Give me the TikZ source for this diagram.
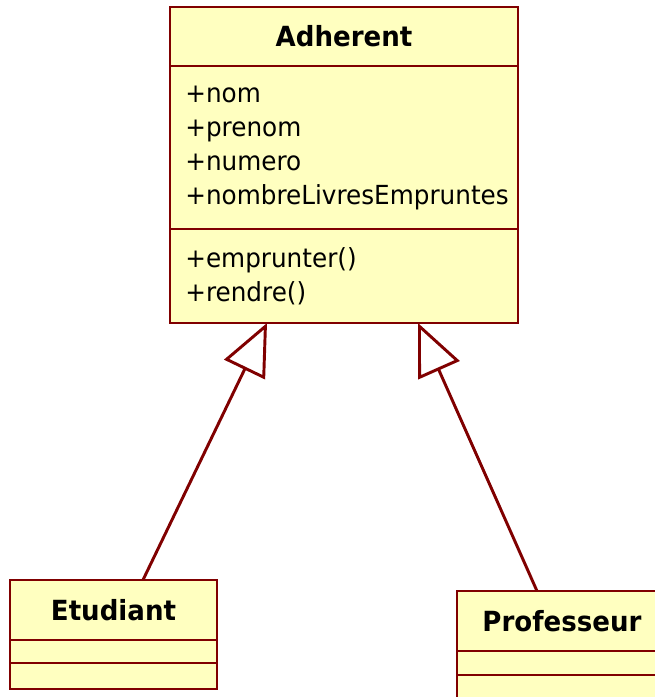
\documentclass[tikz,border=0pt]{standalone}
\usepackage{fontspec}
\setmainfont{DejaVu Sans}[FakeStretch=0.94]
\usetikzlibrary{arrows.meta,positioning}
\definecolor{Maroon}{RGB}{128,0,0}
\definecolor{LightYellow}{RGB}{255,255,192}
\tikzset{
  classname/.style={draw=Maroon, fill=LightYellow, line width=2.2pt, outer sep=0pt, inner sep=0pt, font=\bfseries\fontsize{20.8}{24}\selectfont, minimum height=44.25pt},
  classpart/.style={draw=Maroon, fill=LightYellow, line width=2.2pt, outer sep=0pt, inner xsep=11.5pt, inner ysep=0pt, align=left, font=\fontsize{19.7}{25.5}\selectfont},
  inherit/.style={-{Triangle[open, length=38.8pt, width=33.75pt, fill=white]}, line width=2.2pt, draw=Maroon}
}
\begin{document}
\begin{tikzpicture}[x=0.75pt, y=-0.75pt]
\useasboundingbox (0,0) rectangle (655,697);
% Adherent
\node[classname, minimum width=261pt] (adherent) at (344,36.5) {Adherent};
\node[classpart, text width=238pt, minimum height=122.25pt, below=0pt of adherent] (adherentattr) {+nom\\+prenom\\+numero\\+nombreLivresEmpruntes};
\node[classpart, text width=238pt, minimum height=70.5pt, below=0pt of adherentattr] (adherentops) {+emprunter()\\+rendre()};
% Etudiant
\node[classname, minimum width=155.25pt, minimum height=45pt] (etudiant) at (113.5,610) {Etudiant};
\node[classpart, minimum width=155.25pt, minimum height=17.25pt, below=0pt of etudiant] (etudiantattr) {};
\node[classpart, minimum width=155.25pt, minimum height=19.5pt, below=0pt of etudiantattr] (etudiantops) {};
% Professeur
\node[classname, minimum width=157.5pt, minimum height=45pt] (professeur) at (562,621) {Professeur};
\node[classpart, minimum width=157.5pt, minimum height=18pt, below=0pt of professeur] (professeurattr) {};
\node[classpart, minimum width=157.5pt, minimum height=18.75pt, below=0pt of professeurattr] (professeurops) {};

\draw[inherit] ([xshift=22.1pt]etudiant.north) -- ([xshift=-57.75pt]adherentops.south);
\draw[inherit] ([xshift=-18.75pt]professeur.north) -- ([xshift=55.5pt]adherentops.south);
\end{tikzpicture}
\end{document}
